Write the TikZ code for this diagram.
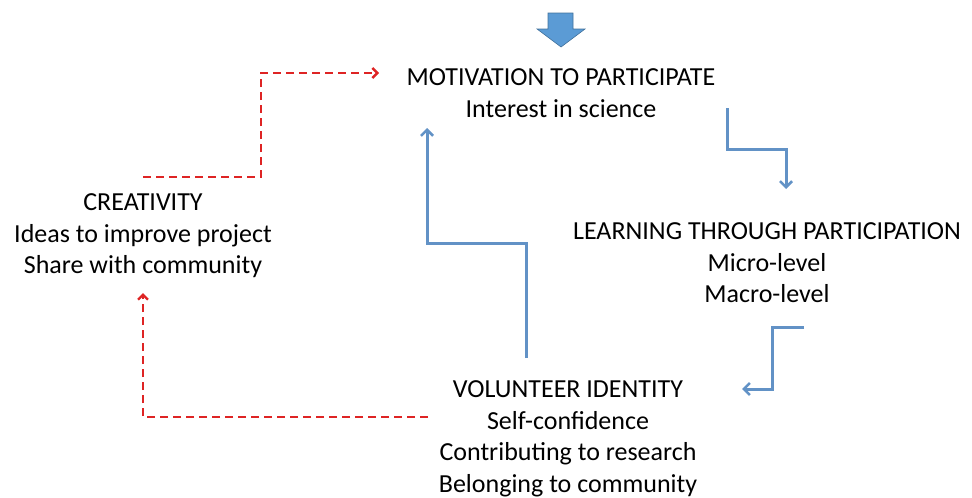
\documentclass[tikz,border=0pt]{standalone}
\usepackage{fontspec}
\setmainfont{Carlito}
\usetikzlibrary{arrows.meta}
\definecolor{flowblue}{RGB}{98,146,198}
\definecolor{blockblue}{RGB}{91,155,213}
\definecolor{blockedge}{RGB}{65,113,156}
\definecolor{dashred}{RGB}{222,36,36}
\tikzset{
  lbl/.style={align=center,inner sep=0pt,font=\fontsize{26}{31.5}\selectfont},
  blueflow/.style={draw=flowblue,line width=3pt,-{Straight Barb[length=6pt,width=12pt,line width=2.6pt]}},
  redflow/.style={draw=dashred,line width=2.6pt,dash pattern=on 8pt off 5pt,-{Straight Barb[length=5pt,width=10pt,line width=2.4pt]}}
}
\begin{document}
\begin{tikzpicture}[x=1pt,y=-1pt]
\useasboundingbox (0,0) rectangle (972,498);
% block arrow at top
\fill[blockblue,draw=blockedge,line width=0.6pt] (548,13) -- (573,13) -- (573,29) -- (585,29) -- (561,47) -- (537,29) -- (548,29) -- cycle;
% text nodes
\node[lbl] (motiv) at (561,93) {MOTIVATION TO PARTICIPATE\\Interest in science};
\node[lbl] (creat) at (143,236) {CREATIVITY\\Ideas to improve project\\Share with community};
\node[lbl] (learn) at (767,263) {LEARNING THROUGH PARTICIPATION\\Micro-level\\Macro-level};
\node[lbl] (volun) at (568,439) {VOLUNTEER IDENTITY\\Self-confidence\\Contributing to research\\Belonging to community};
% connector end points
\coordinate (m1) at (727,108);
\coordinate (l0) at (786,189);
\coordinate (l1) at (804,327);
\coordinate (v0) at (742,389);
\coordinate (v1) at (526,358);
\coordinate (m0) at (427,128);
\coordinate (v2) at (428,417);
\coordinate (c0) at (143,293);
\coordinate (c1) at (143,177);
\coordinate (m2) at (379,73);
% blue flow
\draw[blueflow] (m1) -- (727,149) -- (786,149) -- (l0);
\draw[blueflow] (l1) -- (772,327) -- (772,389) -- (v0);
\draw[blueflow] (v1) -- (526,243) -- (427,243) -- (m0);
% red dashed flow
\draw[redflow] (v2) -- (143,417) -- (c0);
\draw[redflow] (c1) -- (261,177) -- (261,73) -- (m2);
\end{tikzpicture}
\end{document}
